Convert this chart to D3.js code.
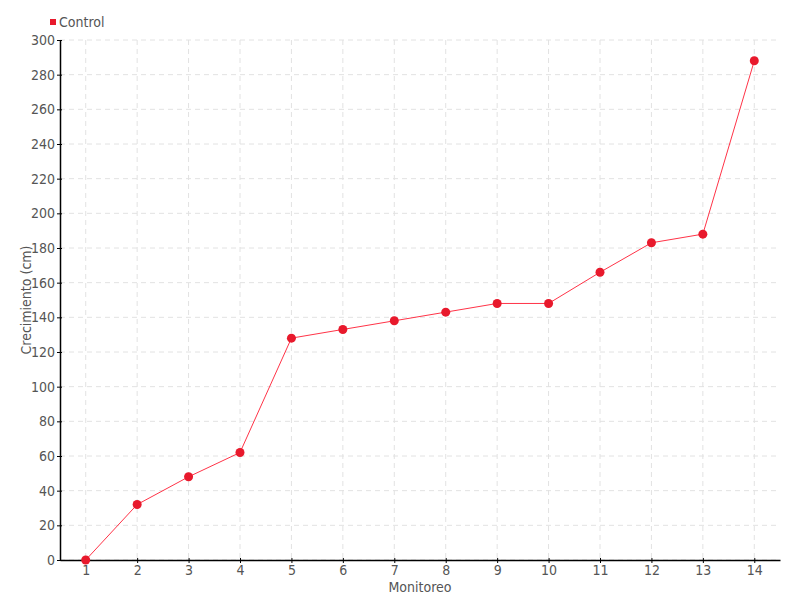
<!DOCTYPE html>
<html>
<head>
<meta charset="utf-8">
<script src="https://cdn.jsdelivr.net/npm/d3@7"></script>
<style>
  body { margin: 0; background: #fff; }
  text { font-family: "DejaVu Sans Condensed", "DejaVu Sans", sans-serif; font-stretch: condensed; fill: #555; }
</style>
</head>
<body>
<div id="myPlot" style="width:800px;height:600px"></div>
<script>
const monitoreo = ["1", "2", "3", "4", "5", "6", "7", "8", "9", "10", "11", "12", "13", "14"]
const control = [0, 32, 48, 62, 128, 133, 138, 143, 148, 148, 166, 183, 188, 288]
const yTicks = d3.range(0, 301, 20)

const margin = {top: 40, right: 20, bottom: 40, left: 60}
const width = 800 - margin.left - margin.right
const height = 600 - margin.top - margin.bottom

const svg = d3.select("#myPlot").append("svg")
    .attr("width", 800)
    .attr("height", 600)

const g = svg.append("g")
    .attr("transform", `translate(${margin.left}, ${margin.top})`)

const xScale = d3.scalePoint()
    .domain(monitoreo)
    .range([0, width])
    .padding(0.5)

const yScale = d3.scaleLinear()
    .domain([0, 300])
    .range([height, 0])

// grid
g.append("g").selectAll("line")
    .data(yTicks)
    .enter().append("line")
    .attr("x1", 0).attr("x2", width)
    .attr("y1", d => yScale(d)).attr("y2", d => yScale(d))
    .attr("stroke", "#e2e2e2")
    .attr("stroke-dasharray", "5,4")

g.append("g").selectAll("line")
    .data(monitoreo)
    .enter().append("line")
    .attr("x1", d => xScale(d)).attr("x2", d => xScale(d))
    .attr("y1", 0).attr("y2", height)
    .attr("stroke", "#e2e2e2")
    .attr("stroke-dasharray", "5,4")

const xAxis = g.append("g")
    .attr("transform", `translate(0, ${height})`)
    .call(d3.axisBottom(xScale).tickSizeInner(3).tickSizeOuter(0).tickPadding(2))
xAxis.select(".domain").attr("stroke", "#000").attr("stroke-width", 1.5)
xAxis.selectAll(".tick line").attr("y1", -2).attr("y2", 3).attr("stroke", "#000")
xAxis.selectAll("text").attr("font-size", 14).style("fill", "#555")

const yAxis = g.append("g")
    .call(d3.axisLeft(yScale).tickValues(yTicks).tickSizeInner(3).tickSizeOuter(0).tickPadding(2))
yAxis.select(".domain").attr("stroke", "#000").attr("stroke-width", 1.5)
yAxis.selectAll(".tick line").attr("x1", -3).attr("x2", 2).attr("stroke", "#000")
yAxis.selectAll("text").attr("font-size", 14).style("fill", "#555")

// line + points
const line = d3.line()
    .x((d, i) => xScale(monitoreo[i]))
    .y(d => yScale(d))

g.append("path")
    .datum(control)
    .attr("fill", "none")
    .attr("stroke", "#ff3347")
    .attr("stroke-width", 1)
    .attr("d", line)

g.selectAll(".dot")
    .data(control)
    .enter().append("circle")
    .attr("class", "dot")
    .attr("cx", (d, i) => xScale(monitoreo[i]))
    .attr("cy", d => yScale(d))
    .attr("r", 4.5)
    .attr("fill", "#e8192c")

// axis titles
svg.append("text")
    .attr("x", margin.left + width / 2)
    .attr("y", 592)
    .attr("text-anchor", "middle")
    .attr("font-size", 14)
    .text("Monitoreo")

svg.append("text")
    .attr("transform", `translate(31, ${margin.top + height / 2}) rotate(-90)`)
    .attr("text-anchor", "middle")
    .attr("font-size", 14)
    .text("Crecimiento (cm)")

// legend
svg.append("rect")
    .attr("x", 50).attr("y", 19)
    .attr("width", 6).attr("height", 6)
    .attr("fill", "#e8192c")
svg.append("text")
    .attr("x", 59).attr("y", 27)
    .attr("font-size", 14)
    .text("Control")
</script>
</body>
</html>
